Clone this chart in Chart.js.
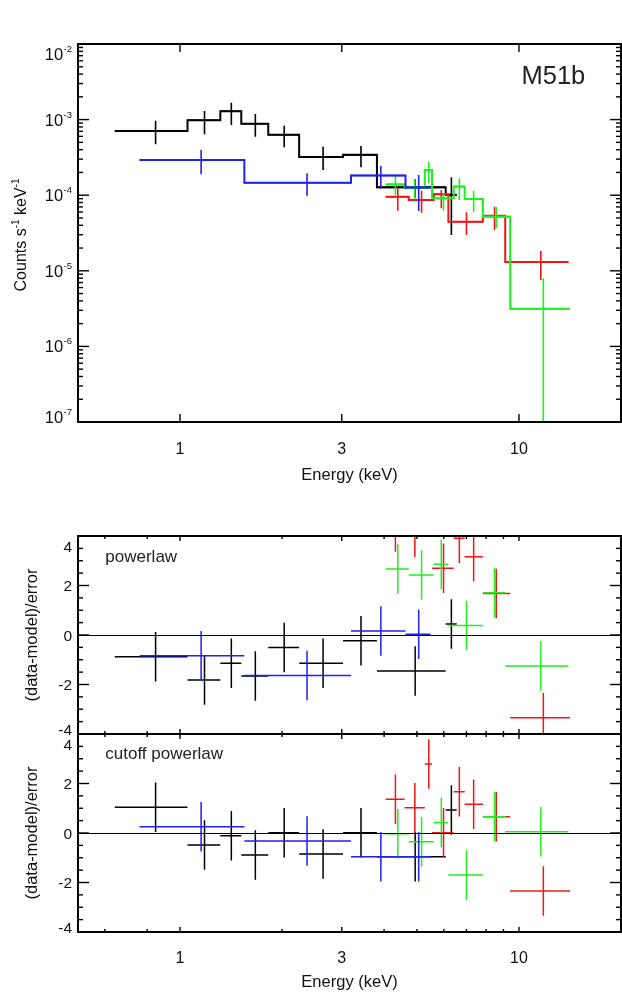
<!DOCTYPE html>
<html>
<head>
<meta charset="utf-8">
<title>M51b spectrum</title>
<script src="https://cdn.jsdelivr.net/npm/chart.js@4.4.1/dist/chart.umd.min.js"></script>
<style>
  html, body { margin: 0; padding: 0; background: #fff; }
  #wrap { position: relative; width: 622px; height: 994px; overflow: hidden; }
  #wrap canvas { position: absolute; left: 0; }
</style>
</head>
<body>
<div id="wrap">
  <canvas id="chartSpec" width="622" height="500" style="top:0"></canvas>
  <canvas id="chartPow" width="622" height="240" style="top:500px"></canvas>
  <canvas id="chartCut" width="622" height="294" style="top:700px"></canvas>
</div>
<script>
// ---- axes / ticks ----
const energyTicks = [1, 3, 10];
const energyTickLabels = ['1', '3', '10'];
const energyMinorTicks = [0.6, 0.8, 2, 4, 5, 6, 7, 8, 9];
const rateTicks = [1e-2, 1e-3, 1e-4, 1e-5, 1e-6, 1e-7];
const rateTickExps = ['-2', '-3', '-4', '-5', '-6', '-7'];
const residTicks = [4, 2, 0, -2, -4];
const residTickLabels = ['4', '2', '0', '-2', '-4'];
const residMinorTicks = [-3.5, -3, -2.5, -1.5, -1, -0.5, 0.5, 1, 1.5, 2.5, 3, 3.5];

// ---- energy bins (keV) ----
const blackEdges = [0.642, 1.052, 1.315, 1.516, 1.821, 2.246, 3.027, 3.81, 6.079, 6.55];
const blackCentres = [0.847, 1.181, 1.417, 1.668, 2.029, 2.643, 3.419, 4.94, 6.318];
const blueEdges = [0.760, 1.548, 3.195, 4.627, 5.481];
const blueCentres = [1.154, 2.37, 3.913, 5.06];
const gridA = [4.042, 4.73, 5.605, 6.19, 7.826, 9.108, 14.0];
const gridACentres = [4.39, 5.16, 5.90, 7.0, 8.47, 11.6];
const gridB = [4.042, 4.597, 5.274, 5.541, 6.418, 6.915, 7.826, 9.42, 14.15];
const gridBCentres = [4.32, 4.93, 5.42, 5.99, 6.67, 7.35, 8.57, 11.8];

// ---- top panel: counts s^-1 keV^-1 ----
const blackModel = [7.07e-4, 9.79e-4, 1.29e-3, 8.83e-4, 6.31e-4, 3.20e-4, 3.43e-4, 1.27e-4, 1.015e-4];
const blackRate = [7.07e-4, 9.79e-4, 1.29e-3, 8.83e-4, 6.31e-4, 3.23e-4, 3.40e-4, 1.27e-4, 1.015e-4];
const blackRateHi = [9.67e-4, 1.30e-3, 1.67e-3, 1.19e-3, 8.30e-4, 4.38e-4, 4.48e-4, 1.62e-4, 1.725e-4];
const blackRateLo = [4.71e-4, 6.39e-4, 8.48e-4, 5.94e-4, 4.30e-4, 2.15e-4, 2.34e-4, 9.3e-5, 2.98e-5];

const blueModel = [2.92e-4, 1.46e-4, 1.82e-4, 1.265e-4];
const blueRate = [2.92e-4, 1.46e-4, 1.82e-4, 1.265e-4];
const blueRateHi = [3.96e-4, 1.95e-4, 2.43e-4, 1.85e-4];
const blueRateLo = [1.89e-4, 9.85e-5, 1.234e-4, 6.18e-5];

const redModel = [9.55e-5, 8.64e-5, 1.028e-4, 4.46e-5, 5.36e-5, 1.307e-5];
const redRate = [9.55e-5, 8.64e-5, 1.028e-4, 4.46e-5, 5.36e-5, 1.307e-5];
const redRateHi = [1.27e-4, 1.147e-4, 1.172e-4, 5.94e-5, 7.05e-5, 1.83e-5];
const redRateLo = [6.24e-5, 5.87e-5, 6.71e-5, 2.98e-5, 3.46e-5, 7.55e-6];

const greenModel = [1.39e-4, 1.26e-4, 2.15e-4, 9.1e-5, 1.30e-4, 8.9e-5, 5.2e-5, 3.15e-6];
const greenRate = [1.39e-4, 1.26e-4, 2.15e-4, 9.1e-5, 1.30e-4, 8.9e-5, 5.2e-5, 3.15e-6];
const greenRateHi = [1.795e-4, 1.623e-4, 2.77e-4, 1.06e-4, 1.673e-4, 1.147e-4, 7.05e-5, 7.96e-6];
const greenRateLo = [1.006e-4, 8.83e-5, 1.437e-4, 6.24e-5, 8.64e-5, 6.05e-5, 3.65e-5, 1e-8];

// ---- residuals, (data-model)/error ----
const plBlack = [-0.88, -1.82, -1.14, -1.66, -0.51, -1.14, -0.23, -1.45, 0.44];
const plBlue = [-0.84, -1.64, 0.16, 0.03];
const plGreen = [2.67, 2.42, 2.86, 0.38, 1.71, -1.25];
const plRed = [4.36, 4.14, 5.5, 2.70, 3.91, 3.16, 1.68, -3.34];

const cpBlack = [1.04, -0.48, -0.11, -0.89, 0.01, -0.85, 0.01, -0.96, 0.93];
const cpBlue = [0.25, -0.32, -0.96, -0.96];
const cpGreen = [-0.03, -0.35, 0.42, -1.70, 0.66, 0.05];
const cpRed = [1.36, 1.02, 2.79, 0.01, 1.67, 1.16, 0.66, -2.34];
const resErr = 1;

const C_BLACK = '#000000', C_RED = '#f51414', C_GREEN = '#1ef01e', C_BLUE = '#2020f0';
const FONT = '"Liberation Sans", Arial, Helvetica, sans-serif';

function stepLine(edges, levels) {
  const pts = [];
  levels.forEach((v, i) => pts.push({ x: edges[i], y: v }, { x: edges[i + 1], y: v }));
  return pts;
}

// horizontal bar over the bin + vertical error bar, broken with nulls
function crossBars(edges, centres, vals, lo, hi) {
  const pts = [];
  vals.forEach((v, i) => {
    pts.push({ x: edges[i], y: v }, { x: edges[i + 1], y: v }, { x: centres[i], y: null });
    pts.push({ x: centres[i], y: lo[i] }, { x: centres[i], y: hi[i] }, { x: centres[i], y: null });
  });
  return pts;
}

function residBars(edges, centres, vals) {
  return crossBars(edges, centres, vals, vals.map(v => v - resErr), vals.map(v => v + resErr));
}

function lineSet(data, color, width, order) {
  return { data, borderColor: color, borderWidth: width, pointRadius: 0, tension: 0, spanGaps: false, fill: false, order };
}

function seg(ctx, x1, y1, x2, y2) {
  ctx.beginPath(); ctx.moveTo(x1, y1); ctx.lineTo(x2, y2); ctx.stroke();
}

function richWidth(ctx, parts, fs, sfs) {
  let w = 0;
  parts.forEach(p => { ctx.font = `${p.sup ? sfs : fs}px ${FONT}`; w += ctx.measureText(p.t).width; });
  return w;
}

function drawRich(ctx, parts, x0, y0, fs, sfs, raise) {
  let x = x0;
  parts.forEach(p => {
    ctx.font = `${p.sup ? sfs : fs}px ${FONT}`;
    ctx.fillText(p.t, x, p.sup ? y0 - raise : y0);
    x += ctx.measureText(p.t).width;
  });
}

const axesFrame = {
  id: 'axesFrame',
  afterDraw(chart, args, o) {
    const { ctx, chartArea: a } = chart;
    const x = chart.scales.x, y = chart.scales.y;
    ctx.save();
    ctx.strokeStyle = '#000';
    ctx.fillStyle = '#111';
    if (o.zeroLine) {
      ctx.lineWidth = 1.2;
      const py = Math.round(y.getPixelForValue(0)) + 0.5;
      seg(ctx, a.left, py, a.right, py);
    }
    ctx.lineWidth = 1.4;
    const xt = (vals, len) => vals.forEach(v => {
      const px = x.getPixelForValue(v);
      seg(ctx, px, a.bottom, px, a.bottom - len);
      seg(ctx, px, a.top, px, a.top + len);
    });
    xt(energyTicks, o.xMajorLen);
    if (o.xMinor) xt(o.xMinor, o.xMinorLen);
    const yt = (vals, len) => vals.forEach(v => {
      const py = y.getPixelForValue(v);
      seg(ctx, a.left, py, a.left + len, py);
      seg(ctx, a.right, py, a.right - len, py);
    });
    yt(o.yMajor, 11);
    yt(o.yMinor, 5);
    ctx.lineWidth = 2;
    ctx.strokeRect(a.left, a.top, a.right - a.left, a.bottom - a.top);

    // x tick labels and title
    ctx.textBaseline = 'alphabetic';
    ctx.textAlign = 'center';
    if (o.xLabelDy) {
      ctx.font = `16px ${FONT}`;
      energyTicks.forEach((v, i) => ctx.fillText(energyTickLabels[i], x.getPixelForValue(v), a.bottom + o.xLabelDy));
    }
    if (o.xTitleDy) {
      ctx.font = `16.5px ${FONT}`;
      ctx.fillText('Energy (keV)', (a.left + a.right) / 2, a.bottom + o.xTitleDy);
    }

    // y tick labels (outer ones pulled inside the panel)
    const labelY = py => Math.min(Math.max(py, a.top + 10), a.bottom - 5);
    ctx.textAlign = 'right';
    if (o.logLabels) {
      o.yMajor.forEach((v, i) => {
        const ly = labelY(y.getPixelForValue(v)) + 6;
        ctx.font = `9.5px ${FONT}`;
        const sw = ctx.measureText(rateTickExps[i]).width;
        ctx.fillText(rateTickExps[i], a.left - 6, ly - 8);
        ctx.font = `16.5px ${FONT}`;
        ctx.fillText('10', a.left - 6.5 - sw, ly);
      });
    } else {
      ctx.font = `15.5px ${FONT}`;
      o.yMajor.forEach((v, i) => ctx.fillText(residTickLabels[i], a.left - 6, labelY(y.getPixelForValue(v)) + 5.6));
    }

    // rotated y title
    const t = o.yTitle;
    ctx.save();
    ctx.translate(t.x, (a.top + a.bottom) / 2 + (t.dy || 0));
    ctx.rotate(-Math.PI / 2);
    ctx.textAlign = 'left';
    const w = richWidth(ctx, t.parts, t.fs, 10);
    drawRich(ctx, t.parts, -w / 2, 0, t.fs, 10, 7);
    ctx.restore();

    // panel note
    if (o.note) {
      ctx.textAlign = 'left';
      ctx.font = `${o.note.fs}px ${FONT}`;
      ctx.fillStyle = '#222';
      ctx.fillText(o.note.text, o.note.fromRight ? a.right - o.note.dx : a.left + o.note.dx, a.top + o.note.dy);
    }
    ctx.restore();
  }
};
Chart.register(axesFrame);

function options(yScale, padding, frame) {
  return {
    responsive: false,
    animation: false,
    events: [],
    layout: { padding },
    scales: {
      x: { type: 'logarithmic', min: 0.5, max: 20, display: false },
      y: Object.assign({ display: false }, yScale)
    },
    plugins: { legend: { display: false }, tooltip: { enabled: false }, axesFrame: frame }
  };
}

const rateMinor = [];
[-7, -6, -5, -4, -3].forEach(p => [2, 3, 4, 5, 6, 7, 8, 9].forEach(m => rateMinor.push(m * Math.pow(10, p))));

new Chart(document.getElementById('chartSpec'), {
  type: 'line',
  data: { datasets: [
    lineSet(crossBars(blueEdges, blueCentres, blueRate, blueRateLo, blueRateHi), C_BLUE, 1.6, 0),
    lineSet(stepLine(blueEdges, blueModel), C_BLUE, 2, 1),
    lineSet(crossBars(gridB, gridBCentres, greenRate, greenRateLo, greenRateHi), C_GREEN, 1.6, 2),
    lineSet(stepLine(gridB, greenModel), C_GREEN, 2, 3),
    lineSet(crossBars(gridA, gridACentres, redRate, redRateLo, redRateHi), C_RED, 1.6, 4),
    lineSet(stepLine(gridA, redModel), C_RED, 2, 5),
    lineSet(crossBars(blackEdges, blackCentres, blackRate, blackRateLo, blackRateHi), C_BLACK, 1.6, 6),
    lineSet(stepLine(blackEdges, blackModel), C_BLACK, 2, 7)
  ]},
  options: options({ type: 'logarithmic', min: 1e-7, max: 1e-2 }, { left: 78, top: 44, right: 1, bottom: 78 }, {
    yMajor: rateTicks, yMinor: rateMinor, logLabels: true,
    xMajorLen: 8, xLabelDy: 32, xTitleDy: 57.5,
    yTitle: { x: 26, dy: 2, fs: 16, parts: [{ t: 'Counts s' }, { t: '-1', sup: true }, { t: ' keV' }, { t: '-1', sup: true }] },
    note: { text: 'M51b', fs: 25.5, fromRight: true, dx: 99.5, dy: 39.5 }
  })
});

function residChart(id, black, blue, green, red, padding, frame) {
  return new Chart(document.getElementById(id), {
    type: 'line',
    data: { datasets: [
      lineSet(residBars(blueEdges, blueCentres, blue), C_BLUE, 1.5, 0),
      lineSet(residBars(gridA, gridACentres, green), C_GREEN, 1.5, 1),
      lineSet(residBars(gridB, gridBCentres, red), C_RED, 1.5, 2),
      lineSet(residBars(blackEdges, blackCentres, black), C_BLACK, 1.5, 3)
    ]},
    options: options({ type: 'linear', min: -4, max: 4 }, padding, frame)
  });
}

const residTitle = { x: 37, fs: 16.5, parts: [{ t: '(data-model)/error' }] };

residChart('chartPow', plBlack, plBlue, plGreen, plRed, { left: 78, top: 36, right: 1, bottom: 6 }, {
  yMajor: residTicks, yMinor: residMinorTicks, zeroLine: true,
  xMajorLen: 5, xMinor: energyMinorTicks, xMinorLen: 3,
  yTitle: residTitle,
  note: { text: 'powerlaw', fs: 17, dx: 27.3, dy: 25.5 }
});

residChart('chartCut', cpBlack, cpBlue, cpGreen, cpRed, { left: 78, top: 34, right: 1, bottom: 62 }, {
  yMajor: residTicks, yMinor: residMinorTicks, zeroLine: true,
  xMajorLen: 5, xMinor: energyMinorTicks, xMinorLen: 3, xLabelDy: 30.5, xTitleDy: 55,
  yTitle: residTitle,
  note: { text: 'cutoff powerlaw', fs: 17, dx: 27.3, dy: 25 }
});
</script>
</body>
</html>
